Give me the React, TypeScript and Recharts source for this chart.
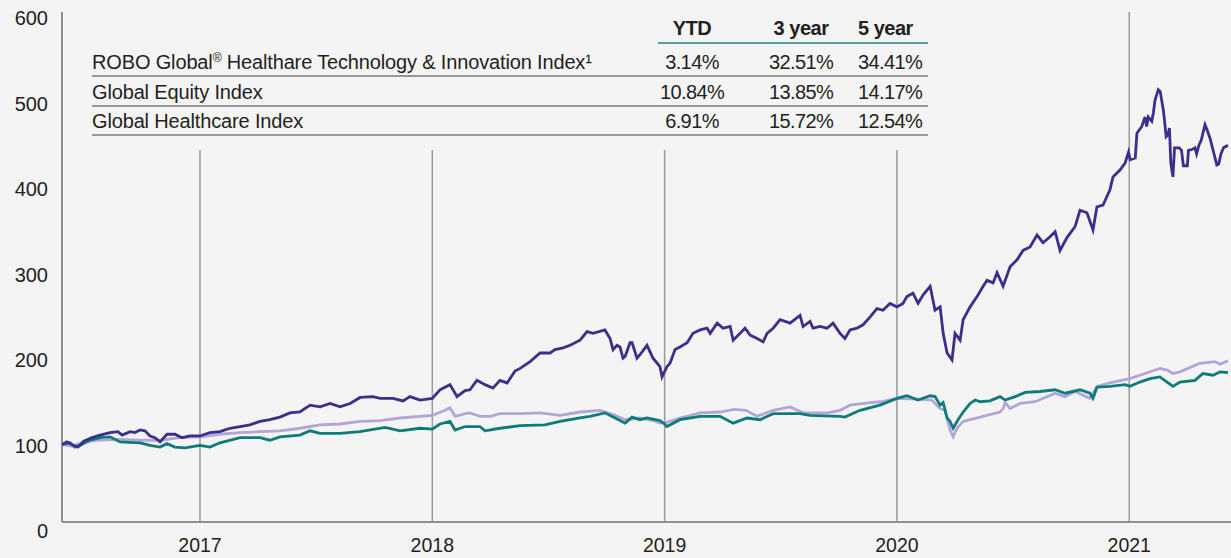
import { LineChart, Line, XAxis, YAxis, ReferenceLine } from "recharts";

// index levels, rebased to 100 — [decimal year, value]
const roboSeries: [number, number][] = [
  [2016.406, 100], [2016.427, 103], [2016.449, 100], [2016.475, 97], [2016.5, 104], [2016.535, 108],
  [2016.57, 111], [2016.613, 114], [2016.647, 115], [2016.665, 111], [2016.699, 115], [2016.72, 114],
  [2016.742, 117], [2016.763, 116], [2016.785, 110], [2016.806, 108], [2016.828, 103], [2016.858, 112],
  [2016.892, 112], [2016.923, 108], [2016.957, 110], [2017.0, 110], [2017.043, 114], [2017.086, 115],
  [2017.129, 119], [2017.172, 121], [2017.215, 123], [2017.258, 127], [2017.301, 129], [2017.344, 132],
  [2017.387, 137], [2017.43, 138], [2017.474, 146], [2017.517, 144], [2017.56, 148], [2017.603, 144],
  [2017.646, 148], [2017.689, 155], [2017.745, 156], [2017.775, 154], [2017.831, 154], [2017.874, 151],
  [2017.904, 156], [2017.947, 152], [2018.0, 154], [2018.033, 164], [2018.076, 170], [2018.098, 160],
  [2018.106, 156], [2018.141, 163], [2018.162, 164], [2018.192, 175], [2018.227, 170], [2018.261, 166],
  [2018.291, 175], [2018.322, 172], [2018.356, 186], [2018.378, 189], [2018.421, 197], [2018.464, 207],
  [2018.507, 207], [2018.528, 211], [2018.563, 213], [2018.593, 216], [2018.636, 222], [2018.666, 232],
  [2018.692, 230], [2018.743, 234], [2018.765, 224], [2018.778, 211], [2018.795, 216], [2018.808, 214],
  [2018.821, 201], [2018.83, 203], [2018.851, 219], [2018.86, 219], [2018.881, 201], [2018.894, 205],
  [2018.924, 216], [2018.95, 201], [2018.98, 191], [2018.989, 179], [2019.01, 191], [2019.023, 195],
  [2019.045, 211], [2019.066, 214], [2019.097, 219], [2019.122, 230], [2019.153, 234], [2019.183, 236],
  [2019.196, 230], [2019.226, 242], [2019.252, 236], [2019.282, 238], [2019.295, 222], [2019.325, 230],
  [2019.346, 236], [2019.368, 228], [2019.398, 224], [2019.424, 220], [2019.441, 230], [2019.467, 236],
  [2019.497, 246], [2019.54, 242], [2019.583, 251], [2019.596, 238], [2019.626, 244], [2019.639, 236],
  [2019.669, 238], [2019.699, 236], [2019.725, 242], [2019.755, 230], [2019.776, 224], [2019.798, 234],
  [2019.828, 236], [2019.854, 240], [2019.884, 249], [2019.914, 259], [2019.94, 257], [2019.97, 265],
  [2020.0, 261], [2020.026, 265], [2020.043, 273], [2020.069, 277], [2020.091, 265], [2020.113, 275],
  [2020.143, 285], [2020.164, 257], [2020.186, 261], [2020.199, 230], [2020.216, 207], [2020.237, 199],
  [2020.25, 230], [2020.272, 222], [2020.285, 246], [2020.315, 261], [2020.345, 273], [2020.371, 285],
  [2020.388, 292], [2020.414, 289], [2020.431, 301], [2020.457, 285], [2020.487, 308], [2020.517, 316],
  [2020.543, 327], [2020.573, 331], [2020.603, 345], [2020.629, 336], [2020.659, 343], [2020.681, 349],
  [2020.702, 327], [2020.732, 342], [2020.767, 355], [2020.788, 374], [2020.818, 371], [2020.844, 351],
  [2020.861, 378], [2020.887, 380], [2020.917, 398], [2020.93, 413], [2020.96, 421], [2020.982, 429],
  [2020.997, 442], [2021.004, 433], [2021.026, 435], [2021.033, 464], [2021.054, 472], [2021.068, 483],
  [2021.075, 472], [2021.082, 483], [2021.097, 478], [2021.104, 488], [2021.111, 503], [2021.125, 515],
  [2021.133, 513], [2021.147, 491], [2021.159, 460], [2021.166, 462], [2021.173, 470], [2021.179, 429],
  [2021.188, 413], [2021.195, 447], [2021.215, 447], [2021.225, 444], [2021.233, 426], [2021.25, 426],
  [2021.255, 444], [2021.27, 445], [2021.283, 447], [2021.29, 440], [2021.3, 450], [2021.31, 456],
  [2021.326, 474], [2021.335, 468], [2021.348, 458], [2021.36, 445], [2021.377, 427], [2021.385, 428],
  [2021.395, 440], [2021.406, 447], [2021.425, 450],
];

const equitySeries: [number, number][] = [
  [2016.406, 100], [2016.45, 98], [2016.5, 103], [2016.57, 105], [2016.65, 106], [2016.742, 105],
  [2016.828, 105], [2016.913, 108], [2017.0, 109], [2017.086, 112], [2017.172, 114], [2017.258, 115],
  [2017.344, 116], [2017.43, 119], [2017.517, 123], [2017.603, 124], [2017.689, 127], [2017.775, 128],
  [2017.86, 131], [2017.947, 133], [2018.0, 134], [2018.055, 140], [2018.076, 143], [2018.098, 133],
  [2018.141, 136], [2018.162, 137], [2018.205, 133], [2018.25, 133], [2018.291, 136], [2018.378, 136],
  [2018.464, 137], [2018.55, 134], [2018.636, 138], [2018.722, 140], [2018.787, 134], [2018.83, 129],
  [2018.894, 131], [2018.95, 128], [2018.98, 125], [2019.01, 126], [2019.066, 131], [2019.153, 137],
  [2019.239, 138], [2019.3, 141], [2019.35, 140], [2019.398, 133], [2019.467, 140], [2019.54, 144],
  [2019.596, 137], [2019.7, 137], [2019.755, 140], [2019.798, 146], [2019.884, 149], [2019.93, 150],
  [2020.0, 154], [2020.086, 153], [2020.15, 152], [2020.186, 142], [2020.207, 140], [2020.229, 117],
  [2020.242, 109], [2020.259, 119], [2020.285, 127], [2020.315, 129], [2020.358, 132], [2020.4, 135],
  [2020.444, 138], [2020.457, 142], [2020.466, 149], [2020.487, 142], [2020.53, 148], [2020.595, 150],
  [2020.681, 160], [2020.724, 156], [2020.767, 162], [2020.831, 154], [2020.861, 168], [2020.917, 172],
  [2021.003, 177], [2021.068, 183], [2021.132, 189], [2021.163, 187], [2021.188, 183], [2021.218, 185],
  [2021.304, 195], [2021.369, 197], [2021.391, 194], [2021.425, 198],
];

const healthSeries: [number, number][] = [
  [2016.406, 100], [2016.44, 102], [2016.462, 97], [2016.483, 99], [2016.527, 105], [2016.57, 108],
  [2016.613, 109], [2016.656, 103], [2016.742, 102], [2016.785, 99], [2016.828, 97], [2016.858, 101],
  [2016.892, 97], [2016.935, 96], [2017.0, 99], [2017.043, 97], [2017.086, 102], [2017.172, 108],
  [2017.258, 108], [2017.301, 105], [2017.344, 109], [2017.43, 111], [2017.474, 116], [2017.517, 113],
  [2017.603, 113], [2017.689, 115], [2017.797, 120], [2017.861, 116], [2017.947, 119], [2018.0, 118],
  [2018.033, 124], [2018.076, 127], [2018.098, 117], [2018.141, 121], [2018.205, 121], [2018.227, 116],
  [2018.291, 119], [2018.378, 122], [2018.485, 123], [2018.55, 127], [2018.636, 131], [2018.679, 133],
  [2018.743, 137], [2018.787, 131], [2018.83, 125], [2018.86, 132], [2018.894, 129], [2018.924, 131],
  [2018.98, 128], [2019.0, 124], [2019.01, 121], [2019.066, 129], [2019.153, 133], [2019.239, 133],
  [2019.295, 125], [2019.355, 131], [2019.411, 129], [2019.467, 136], [2019.583, 136], [2019.626, 134],
  [2019.755, 133], [2019.776, 132], [2019.841, 140], [2019.927, 146], [2020.0, 154], [2020.043, 157],
  [2020.091, 152], [2020.143, 157], [2020.164, 156], [2020.186, 146], [2020.199, 149], [2020.216, 131],
  [2020.229, 127], [2020.242, 119], [2020.263, 129], [2020.285, 138], [2020.315, 148], [2020.337, 152],
  [2020.358, 150], [2020.4, 151], [2020.444, 156], [2020.466, 152], [2020.509, 156], [2020.552, 161],
  [2020.616, 162], [2020.681, 164], [2020.724, 160], [2020.788, 164], [2020.831, 160], [2020.844, 154],
  [2020.861, 167], [2020.917, 168], [2020.982, 170], [2021.003, 168], [2021.046, 173], [2021.089, 177],
  [2021.132, 179], [2021.163, 173], [2021.188, 168], [2021.218, 173], [2021.283, 175], [2021.317, 183],
  [2021.361, 181], [2021.391, 185], [2021.425, 184],
];

const yearTicks = [2017, 2018, 2019, 2020, 2021];
const valueTicks = [0, 100, 200, 300, 400, 500, 600];

const tableHeaders = ["YTD", "3 year", "5 year"];
const tableLabels = [
  "ROBO Global® Healthare Technology & Innovation Index¹",
  "Global Equity Index",
  "Global Healthcare Index",
];
const ytdReturns = ["3.14%", "10.84%", "6.91%"];
const threeYearReturns = ["32.51%", "13.85%", "15.72%"];
const fiveYearReturns = ["34.41%", "14.17%", "12.54%"];

const W = 1231;
const H = 558;
const X_MIN = 2016.406;
const X_MAX = 2021.438;
const Y_MAX = 605.85;
const AXIS_Y = 9.4; // where the drawn baseline sits
const GRID_TOP = 444.4; // year lines stop under the table

const FONT = '"Liberation Sans", Arial, sans-serif';
const TEXT = "#231f20";

const toRows = (s: [number, number][]) => s.map(([t, v]) => ({ t, v }));

const YearTick = ({ x, payload }: any) => (
  <text x={x} y={552} textAnchor="middle" fontSize={19.5} fill={TEXT} fontFamily={FONT}>
    {payload.value}
  </text>
);

const ValueTick = ({ y, payload }: any) => (
  <text x={48} y={y + 8} textAnchor="end" fontSize={20} fill={TEXT} fontFamily={FONT}>
    {payload.value}
  </text>
);

function Label({ text, y }: { text: string; y: number }) {
  const parts = text.split(/(®)/);
  return (
    <text x={92} y={y} fontSize={20} fill={TEXT} fontFamily={FONT} letterSpacing={-0.15}>
      {parts.map((p, i) =>
        p === "®" ? (
          <tspan key={i} fontSize={12} dy={-7}>
            ®
          </tspan>
        ) : (
          <tspan key={i} dy={i > 0 ? 7 : 0}>
            {p}
          </tspan>
        )
      )}
    </text>
  );
}

function ReturnsTable() {
  const rowBase = [69, 99, 128];
  const rowRule = [76, 106, 135];
  return (
    <svg width={W} height={H} style={{ position: "absolute", left: 0, top: 0, pointerEvents: "none" }}>
      <text x={692} y={35} textAnchor="middle" fontSize={20} fontWeight={700} fill={TEXT} fontFamily={FONT} letterSpacing={-0.5}>
        {tableHeaders[0]}
      </text>
      <text x={801} y={35} textAnchor="middle" fontSize={20} fontWeight={700} fill={TEXT} fontFamily={FONT} letterSpacing={-0.5}>
        {tableHeaders[1]}
      </text>
      <text x={858} y={35} fontSize={20} fontWeight={700} fill={TEXT} fontFamily={FONT} letterSpacing={-0.5}>
        {tableHeaders[2]}
      </text>
      <line x1={658} x2={928} y1={43} y2={43} stroke="#2a7f7e" strokeWidth={1.5} />
      {tableLabels.map((label, i) => (
        <g key={label}>
          <Label text={label} y={rowBase[i]} />
          <text x={692} y={rowBase[i]} textAnchor="middle" fontSize={20} fill={TEXT} fontFamily={FONT} letterSpacing={-0.6}>
            {ytdReturns[i]}
          </text>
          <text x={801} y={rowBase[i]} textAnchor="middle" fontSize={20} fill={TEXT} fontFamily={FONT} letterSpacing={-0.6}>
            {threeYearReturns[i]}
          </text>
          <text x={858} y={rowBase[i]} fontSize={20} fill={TEXT} fontFamily={FONT} letterSpacing={-0.6}>
            {fiveYearReturns[i]}
          </text>
          <line x1={92} x2={928} y1={rowRule[i]} y2={rowRule[i]} stroke="#7a7a7a" strokeWidth={1.5} />
        </g>
      ))}
    </svg>
  );
}

export default function App() {
  return (
    <div style={{ position: "absolute", left: 0, top: 0, width: W, height: H, background: "#f4f4f4" }}>
      <LineChart width={W} height={H} margin={{ top: 12, right: 0, bottom: 0, left: 0 }}>
        <XAxis
          type="number"
          dataKey="t"
          domain={[X_MIN, X_MAX]}
          allowDataOverflow
          ticks={yearTicks}
          interval={0}
          axisLine={false}
          tickLine={false}
          height={28}
          tick={<YearTick />}
        />
        <YAxis
          type="number"
          domain={[0, Y_MAX]}
          allowDataOverflow
          ticks={valueTicks}
          interval={0}
          axisLine={false}
          tickLine={false}
          width={62}
          tick={<ValueTick />}
        />
        {yearTicks.map((yr) => (
          <ReferenceLine
            key={yr}
            segment={[
              { x: yr, y: yr === 2021 ? Y_MAX : GRID_TOP },
              { x: yr, y: AXIS_Y },
            ]}
            stroke="#9b9b9b"
            strokeWidth={1.5}
          />
        ))}
        <ReferenceLine
          segment={[
            { x: X_MIN, y: AXIS_Y },
            { x: X_MAX, y: AXIS_Y },
          ]}
          stroke="#8f8f8f"
          strokeWidth={2}
        />
        <ReferenceLine
          segment={[
            { x: X_MIN, y: AXIS_Y },
            { x: X_MIN, y: Y_MAX },
          ]}
          stroke="#8f8f8f"
          strokeWidth={2}
        />
        <Line data={toRows(equitySeries)} dataKey="v" stroke="#b3a4d9" strokeWidth={2.8} dot={false} activeDot={false} isAnimationActive={false} />
        <Line data={toRows(healthSeries)} dataKey="v" stroke="#0c7c7a" strokeWidth={2.8} dot={false} activeDot={false} isAnimationActive={false} />
        <Line data={toRows(roboSeries)} dataKey="v" stroke="#3b2f8e" strokeWidth={2.8} dot={false} activeDot={false} isAnimationActive={false} />
      </LineChart>
      <ReturnsTable />
    </div>
  );
}
